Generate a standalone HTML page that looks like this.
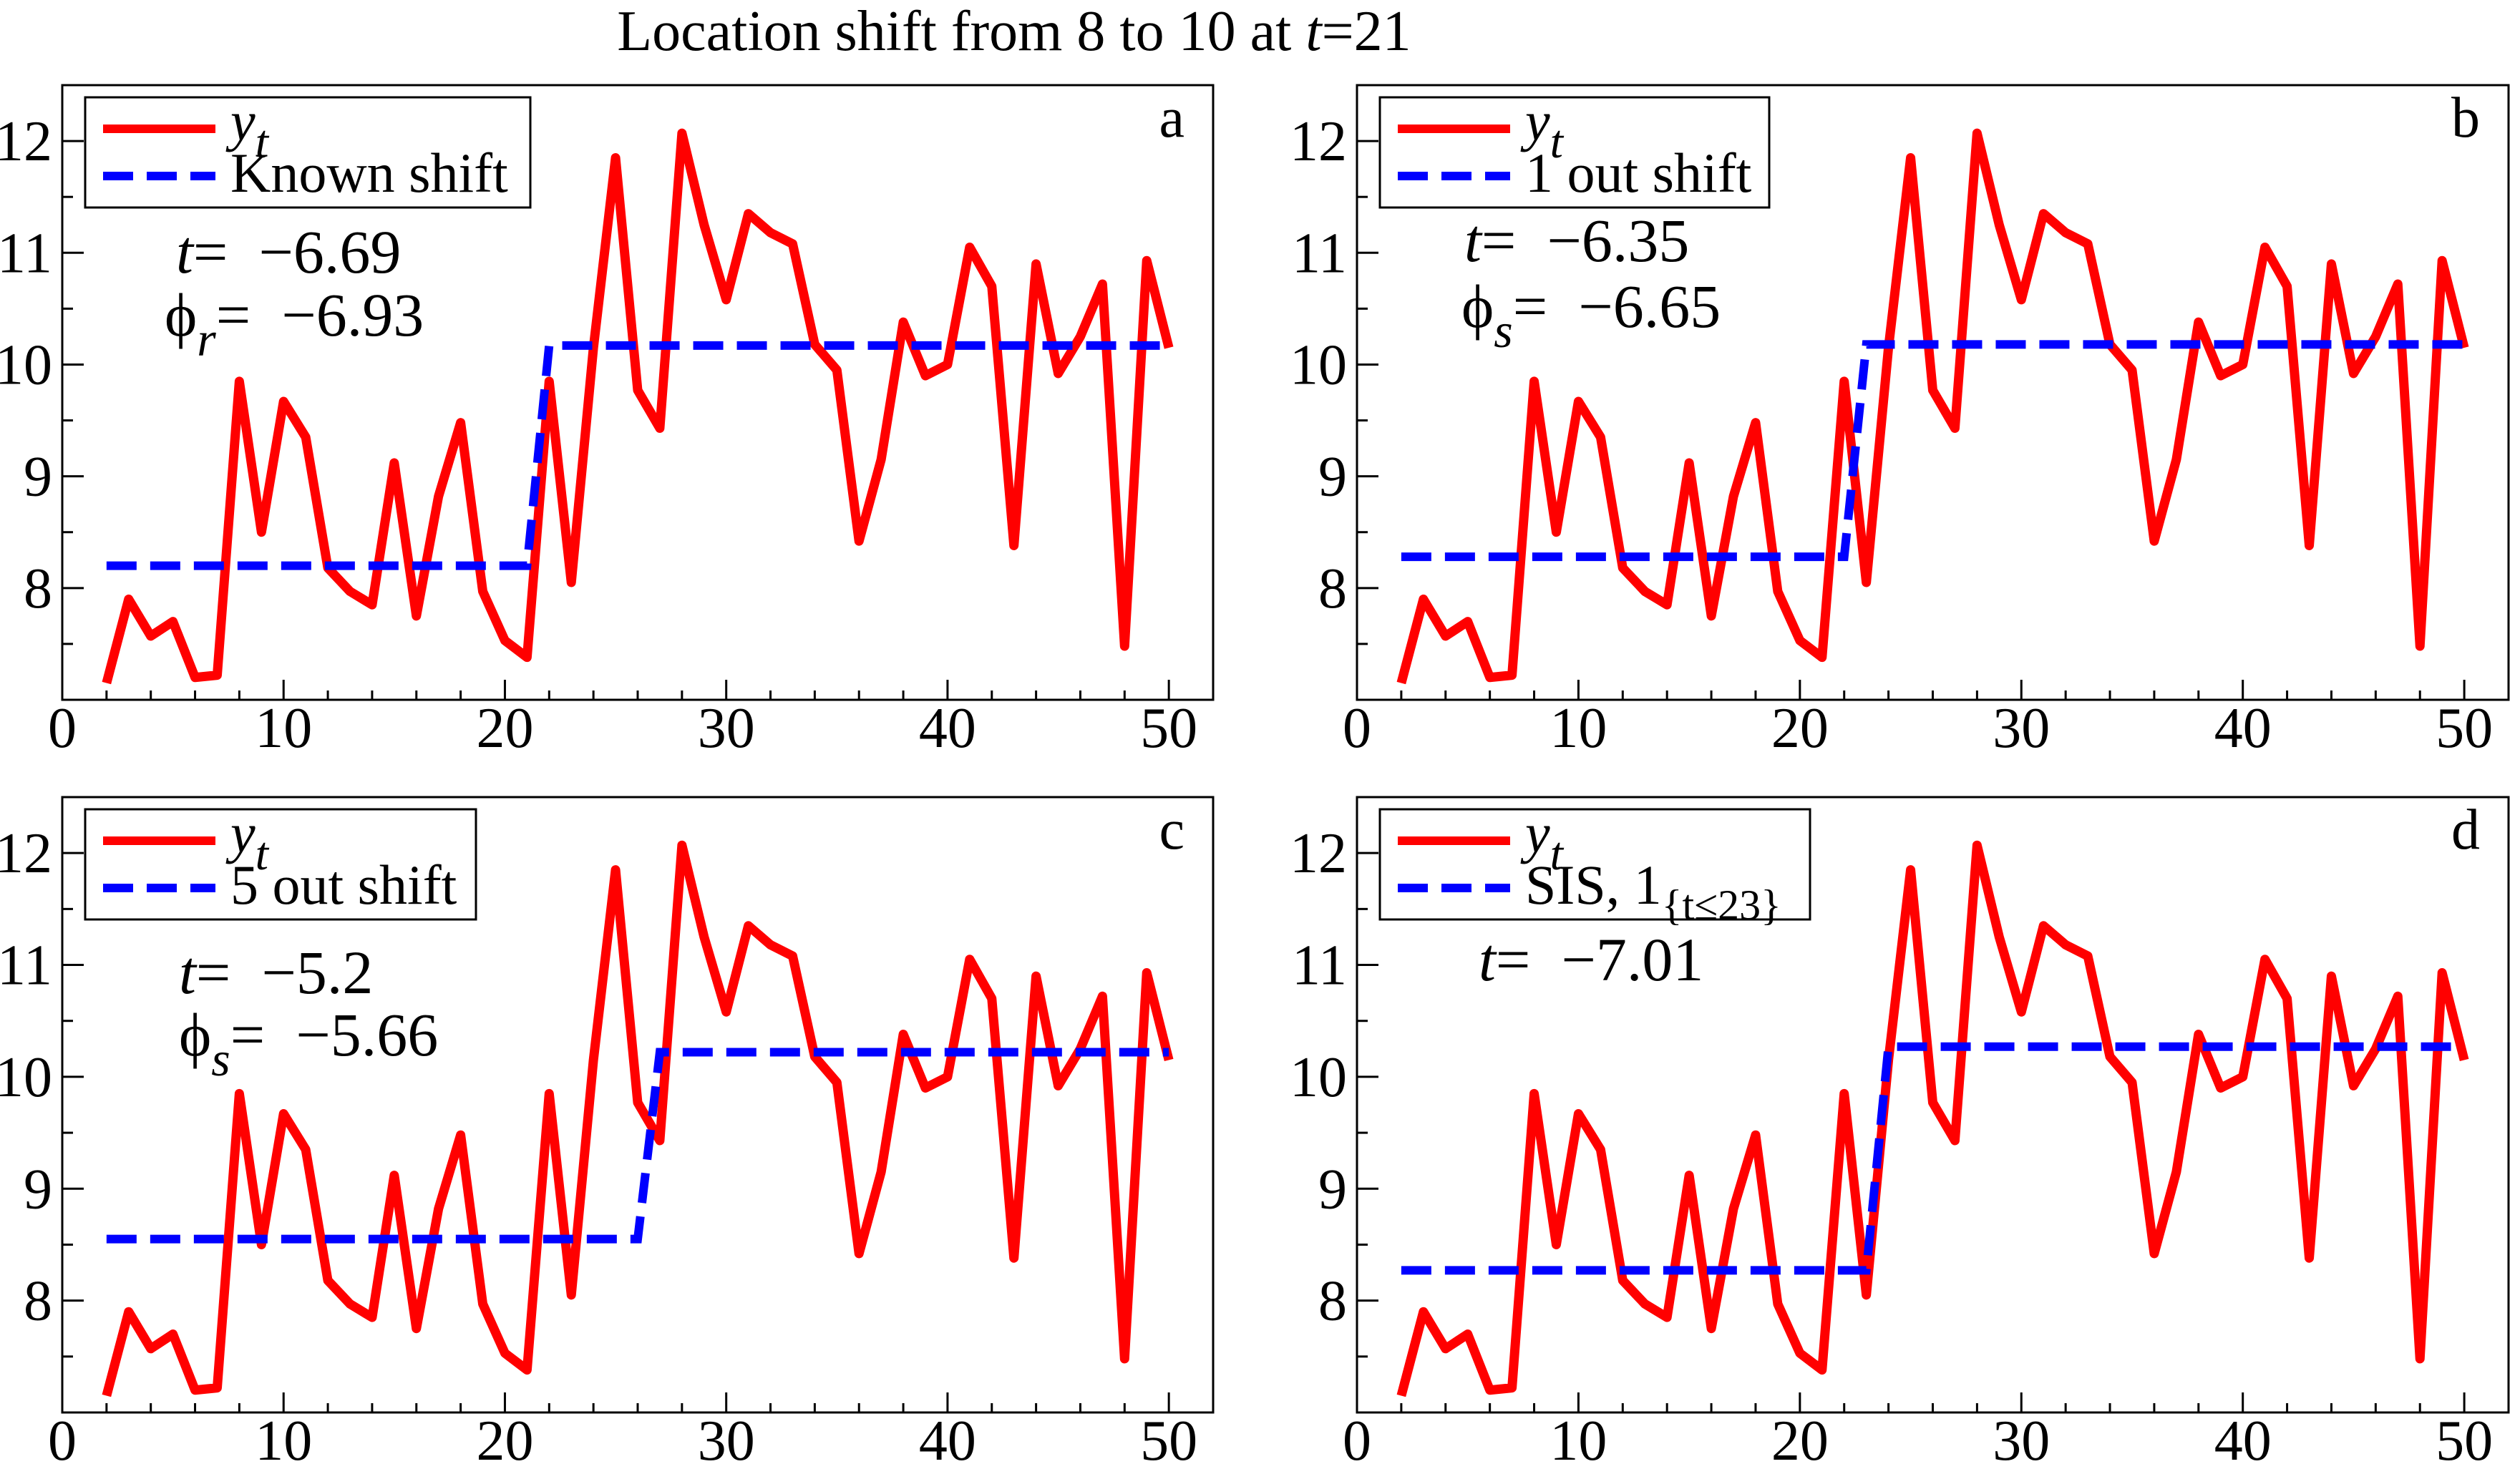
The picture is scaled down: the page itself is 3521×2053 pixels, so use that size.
<!DOCTYPE html>
<html><head><meta charset="utf-8"><style>
html,body{margin:0;padding:0;background:#fff;}
svg{display:block;}
svg text{font-family:"Liberation Serif","DejaVu Serif",serif;}
</style></head><body>
<svg id="chart" width="3521" height="2053" viewBox="0 0 3521 2053" xmlns="http://www.w3.org/2000/svg">
<text x="1417" y="70" font-size="80" text-anchor="middle" font-family="Liberation Serif, serif">Location shift from 8 to 10 at <tspan font-style="italic">t</tspan>=21</text>
</svg>
<script>
const xValues = [2,3,4,5,6,7,8,9,10,11,12,13,14,15,16,17,18,19,20,21,22,23,24,25,26,27,28,29,30,31,32,33,34,35,36,37,38,39,40,41,42,43,44,45,46,47,48,49,50];
const yValues = [7.15,7.9,7.57,7.7,7.2,7.22,9.85,8.5,9.67,9.35,8.18,7.97,7.85,9.12,7.75,8.82,9.48,7.97,7.53,7.38,9.85,8.05,10.15,11.85,9.77,9.43,12.07,11.25,10.58,11.35,11.18,11.08,10.18,9.95,8.42,9.15,10.38,9.9,10.0,11.05,10.7,8.38,10.9,9.92,10.25,10.72,7.48,10.93,10.15];
const shiftBreak = [21, 22, 26, 23];
const shiftBefore = [8.2, 8.28, 8.55, 8.27];
const shiftAfter = [10.17, 10.18, 10.22, 10.27];
const panelLetters = ['a','b','c','d'];
const legendLabels = ['Known shift','1 out shift','5 out shift','SIS'];
const tStats = ['\u22126.69','\u22126.35','\u22125.2','\u22127.01'];
const phiStats = ['\u22126.93','\u22126.65','\u22125.66',null];
const phiSubs = ['r','s','s',null];
const xTicks = [0,10,20,30,40,50];
const yTicks = [8,9,10,11,12];

const NS='http://www.w3.org/2000/svg';
const svg=document.getElementById('chart');
const FF='Liberation Serif, serif';
function mk(tag,attrs,parent){const e=document.createElementNS(NS,tag);for(const k in attrs)e.setAttribute(k,attrs[k]);(parent||svg).appendChild(e);return e;}

const panels=[{L:87,R:1695,T:119,B:978},{L:1896,R:3505,T:119,B:978},{L:87,R:1695,T:1114,B:1974},{L:1896,R:3505,T:1114,B:1974}];
const statPos=[{tx:246,ty:381,px:230,py:469},{tx:2046,ty:365,px:2042,py:457},{tx:250,ty:1388,px:250,py:1475},{tx:2066,ty:1370}];
const legendW=[622,544,546,601];

panels.forEach((p,i)=>{
  const g=mk('g',{});
  
  
  const sx=v=>p.L+(v-0)/52*(p.R-p.L);
  const sy=v=>p.B-(v-7)/5.5*(p.B-p.T);
  for(let v=0;v<=52;v+=2){const major=v%10===0;const t=mk('line',{x1:sx(v),x2:sx(v),y1:p.B,y2:p.B-(major?28:13),stroke:'#000','stroke-width':3},g);}
  for(let v=7.5;v<=12.5;v+=0.5){const major=Math.abs(v-Math.round(v))<1e-6;const t=mk('line',{x1:p.L,x2:p.L+(major?30:15),y1:sy(v),y2:sy(v),stroke:'#000','stroke-width':3},g);}
  xTicks.forEach(v=>{const t=mk('text',{x:sx(v),y:p.B+66,'font-size':80,'text-anchor':'middle','font-family':FF},g);t.textContent=v;});
  yTicks.forEach(v=>{const t=mk('text',{x:p.L-14,y:sy(v)+27,'font-size':80,'text-anchor':'end','font-family':FF},g);t.textContent=v;});
  const cp=mk('clipPath',{id:'cp'+i},g);mk('rect',{x:p.L,y:p.T,width:p.R-p.L,height:p.B-p.T},cp);
  const pts=xValues.map((x,k)=>sx(x)+','+sy(yValues[k])).join(' ');
  const red=mk('polyline',{points:pts,fill:'none',stroke:'#ff0000','stroke-width':13,'stroke-linejoin':'round','clip-path':'url(#cp'+i+')'},g);
  
  const bp=[[2,shiftBefore[i]],[shiftBreak[i],shiftBefore[i]],[shiftBreak[i]+1,shiftAfter[i]],[50,shiftAfter[i]]].map(a=>sx(a[0])+','+sy(a[1])).join(' ');
  const blue=mk('polyline',{points:bp,fill:'none',stroke:'#0000ff','stroke-width':12,'stroke-dasharray':'42 19','clip-path':'url(#cp'+i+')'},g);
  
  const fr=mk('rect',{x:p.L,y:p.T,width:p.R-p.L,height:p.B-p.T,fill:'none',stroke:'#000','stroke-width':3},g);
  
  const lx=p.L+32,ly=p.T+17;
  const lg=mk('g',{},g);
  mk('rect',{x:lx,y:ly,width:legendW[i],height:154,fill:'#fff',stroke:'#000','stroke-width':3},lg);
  mk('line',{x1:lx+25,x2:lx+182,y1:ly+44,y2:ly+44,stroke:'#ff0000','stroke-width':12},lg);
  mk('line',{x1:lx+25,x2:lx+182,y1:ly+110,y2:ly+110,stroke:'#0000ff','stroke-width':12,'stroke-dasharray':'42 19'},lg);
  const t1=mk('text',{x:lx+203,y:ly+60,'font-size':78,'font-style':'italic','font-family':FF},lg);
  t1.textContent='y';const s1=mk('tspan',{dy:24,'font-size':66},t1);s1.textContent='t';
  
  const t2=mk('text',{x:lx+203,y:ly+132,'font-size':78,'font-family':FF},lg);
  
  if(i===3){t2.textContent='SIS, 1';const s2=mk('tspan',{dy:22,'font-size':60},t2);s2.textContent='{t\u226423}';}
  else t2.textContent=legendLabels[i];
  const pl=mk('text',{x:p.R-40,y:p.T+72,'font-size':80,'text-anchor':'end','font-family':FF},g);pl.textContent=panelLetters[i];
  
  const sp=statPos[i];
  const st=mk('text',{x:sp.tx,y:sp.ty,'font-size':86,'font-family':FF},g);
  
  const it=mk('tspan',{'font-style':'italic'},st);it.textContent='t';
  const rest=mk('tspan',{},st);rest.textContent='=\u00a0 '+tStats[i];
  if(phiStats[i]){
    const ph=mk('text',{x:sp.px,y:sp.py,'font-size':86,'font-family':FF},g);
    
    const a=mk('tspan',{},ph);a.textContent='\u03d5';
    const b=mk('tspan',{dy:28,'font-size':68,'font-style':'italic'},ph);b.textContent=phiSubs[i];
    const c=mk('tspan',{dy:-28},ph);c.textContent='=\u00a0 '+phiStats[i];
  }
});
</script>
</body></html>
